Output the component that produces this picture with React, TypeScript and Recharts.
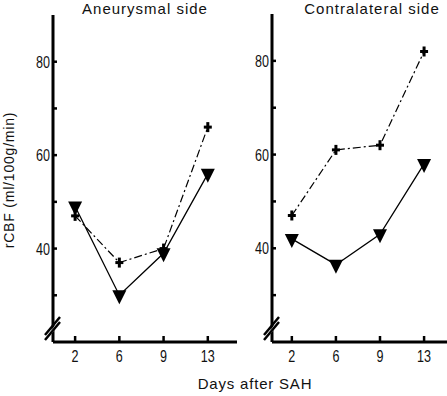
import React from 'react';
import { LineChart, Line, XAxis, YAxis } from 'recharts';

const days = ['2', '6', '9', '13'];
const aneurysmalPlus = [47, 37, 40, 66];
const aneurysmalTri = [49, 30, 39, 56];
const contraPlus = [47, 61, 62, 82];
const contraTri = [42, 36.5, 43, 58];
const yTicks = [23, 30, 40, 50, 60, 70, 80];
const BREAK = 23;

const numFont = '"Liberation Sans", Arial, sans-serif';
const textFont = '"Liberation Sans", Arial, sans-serif';

// narrow digits: regular sans squeezed horizontally
const Num = ({ x, y, anchor, children }: any) => (
  <g transform={`translate(${x},${y}) scale(0.74,1)`}>
    <text x={0} y={0} textAnchor={anchor} fontSize={17} fontFamily={numFont} fill="#111">
      {children}
    </text>
  </g>
);

const YTick = (props: any) => {
  const { x, y, payload } = props;
  const v = payload.value;
  if (v === BREAK) {
    return (
      <g>
        <polygon points={`${x - 6},${y + 7} ${x + 6},${y - 7} ${x + 6},${y - 3} ${x - 6},${y + 11}`} fill="#fff" />
        <line x1={x - 8} y1={y + 7} x2={x + 7} y2={y - 11} stroke="#000" strokeWidth={2.5} />
        <line x1={x - 8} y1={y + 12} x2={x + 7} y2={y - 6} stroke="#000" strokeWidth={2.5} />
      </g>
    );
  }
  return (
    <g>
      <line x1={x} x2={x + 4} y1={y} y2={y} stroke="#000" strokeWidth={2.5} />
      {v % 20 === 0 && (
        <Num x={x - 3} y={y + 6} anchor="end">
          {v}
        </Num>
      )}
    </g>
  );
};

const XTick = (props: any) => {
  const { x, y, payload } = props;
  return (
    <g>
      <line x1={x} x2={x} y1={y} y2={y - 6} stroke="#000" strokeWidth={2.5} />
      <Num x={x} y={y + 20} anchor="middle">
        {days[payload.value]}
      </Num>
    </g>
  );
};

const PlusDot = (props: any) => {
  const { cx, cy } = props;
  if (cx == null || cy == null) return null;
  return (
    <g>
      <line x1={cx - 4} x2={cx + 4} y1={cy} y2={cy} stroke="#000" strokeWidth={3} />
      <line x1={cx} x2={cx} y1={cy - 5} y2={cy + 5} stroke="#000" strokeWidth={3} />
    </g>
  );
};

const TriDot = (props: any) => {
  const { cx, cy } = props;
  if (cx == null || cy == null) return null;
  return <polygon points={`${cx - 7},${cy - 5} ${cx + 7},${cy - 5} ${cx},${cy + 9}`} fill="#000" />;
};

interface PanelProps {
  plus: number[];
  tri: number[];
  xDomain: [number, number];
  width: number;
  left: number;
  top: number;
}

const Panel: React.FC<PanelProps> = ({ plus, tri, xDomain, width, left, top }) => {
  const data = days.map((d, i) => ({ idx: i, plus: plus[i], tri: tri[i] }));
  return (
    <div style={{ position: 'absolute', left, top: 0 }}>
      <LineChart width={width} height={396} data={data} margin={{ top, right: 0, left: 0, bottom: 0 }}>
        <XAxis
          dataKey="idx"
          type="number"
          domain={xDomain}
          ticks={[0, 1, 2, 3]}
          interval={0}
          allowDataOverflow
          height={54}
          tickSize={0}
          tickMargin={0}
          axisLine={{ stroke: '#000', strokeWidth: 3 }}
          tickLine={false}
          tick={<XTick />}
        />
        <YAxis
          type="number"
          domain={[20, 90]}
          ticks={yTicks}
          interval={0}
          allowDataOverflow
          width={53}
          tickSize={0}
          tickMargin={0}
          axisLine={{ stroke: '#000', strokeWidth: 3 }}
          tickLine={false}
          tick={<YTick />}
        />
        <Line
          type="linear"
          dataKey="plus"
          stroke="#000"
          strokeWidth={1.2}
          strokeDasharray="8 3 2 3"
          dot={<PlusDot />}
          activeDot={false}
          isAnimationActive={false}
        />
        <Line
          type="linear"
          dataKey="tri"
          stroke="#000"
          strokeWidth={1.3}
          dot={<TriDot />}
          activeDot={false}
          isAnimationActive={false}
        />
      </LineChart>
    </div>
  );
};

const App: React.FC = () => {
  return (
    <div style={{ position: 'absolute', left: 0, top: 0, width: 447, height: 396, background: '#fff', overflow: 'hidden' }}>
      <Panel plus={aneurysmalPlus} tri={aneurysmalTri} xDomain={[-0.5, 3.66]} width={237} left={0} top={15} />
      <Panel plus={contraPlus} tri={contraTri} xDomain={[-0.45, 3.52]} width={228} left={219} top={14} />
      <div style={{ position: 'absolute', left: 145, top: 0, transform: 'translateX(-50%)', fontFamily: textFont, fontSize: 15, letterSpacing: 1, color: '#111', whiteSpace: 'nowrap' }}>
        Aneurysmal side
      </div>
      <div style={{ position: 'absolute', left: 372, top: 0, transform: 'translateX(-50%)', fontFamily: textFont, fontSize: 15, letterSpacing: 1, color: '#111', whiteSpace: 'nowrap' }}>
        Contralateral side
      </div>
      <div style={{ position: 'absolute', left: 255, top: 375, transform: 'translateX(-50%)', fontFamily: textFont, fontSize: 15, letterSpacing: 0.8, color: '#111', whiteSpace: 'nowrap' }}>
        Days after SAH
      </div>
      <div style={{ position: 'absolute', left: 9, top: 180, transform: 'translate(-50%, -50%) rotate(-90deg)', fontFamily: textFont, fontSize: 14, letterSpacing: 0.8, color: '#111', whiteSpace: 'nowrap' }}>
        rCBF (ml/100g/min)
      </div>
    </div>
  );
};

export default App;
